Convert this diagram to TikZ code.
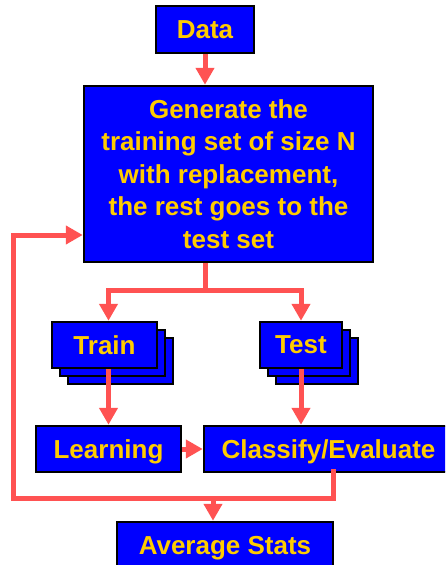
\documentclass[tikz,border=0pt]{standalone}
\usepackage{fontspec}
\setmainfont{Liberation Sans}
\usetikzlibrary{arrows.meta}
\definecolor{boxblue}{HTML}{0000FF}
\definecolor{txtyellow}{HTML}{FFCC00}
\definecolor{flowred}{HTML}{FF5252}
\tikzset{
  blockbox/.style={draw=black, line width=2.5pt, fill=boxblue, text=txtyellow,
    inner sep=0pt, align=center, text depth=0pt,
    font=\fontsize{26}{32.5}\selectfont\bfseries},
  backbox/.style={draw=black, line width=2.5pt, fill=boxblue, inner sep=0pt},
  flow/.style={draw=flowred, line width=5pt},
  flowarrow/.style={flow, -{Triangle[width=18pt,length=17pt]}, color=flowred}
}
\begin{document}
\begin{tikzpicture}[x=1pt,y=-1pt]
\useasboundingbox (0,0) rectangle (445,565);
\clip (0,0) rectangle (445,565);

% main blocks
\node[blockbox, minimum width=98pt, minimum height=47pt] (data) at (205,29.5) {Data};
\node[blockbox, minimum width=289pt, minimum height=176pt] (gen) at (228.5,174)
  {Generate the\\training set of size N\\with replacement,\\the rest goes to the\\test set};

% stacked Train cards
\node[backbox, minimum width=105pt, minimum height=46pt] (trainb2) at (120.5,361) {};
\node[backbox, minimum width=105pt, minimum height=46pt] (trainb1) at (112.5,353) {};
\node[blockbox, minimum width=105pt, minimum height=46pt] (train) at (104.5,345) {Train};

% stacked Test cards
\node[backbox, minimum width=82pt, minimum height=46pt] (testb2) at (317,361) {};
\node[backbox, minimum width=82pt, minimum height=46pt] (testb1) at (309,353) {};
\node[blockbox, minimum width=82pt, minimum height=46pt] (test) at (301,345) {Test};

\node[blockbox, minimum width=145pt, minimum height=46pt] (learn) at (108.5,449) {Learning};
\node[blockbox, minimum width=249pt, minimum height=46pt] (classify) at (328.5,449) {Classify/Evaluate};
\node[blockbox, minimum width=216pt, minimum height=46pt] (avg) at (225,545) {Average Stats};

% connector helper points
\coordinate (split) at (205,290);
\coordinate (loopbr) at (333,498);
\coordinate (loopbl) at (13,498);
\coordinate (looptl) at (13,235);
\coordinate (avgin) at (213,498);

% connectors
\draw[flowarrow] (data.south) -- (data.south |- gen.north);
\draw[flow] (gen.south -| split) -- (split);
\draw[flowarrow] (split) -| (learn.north |- train.north);
\draw[flowarrow] (split) -| (test.north);
\draw[flowarrow] (learn.north |- train.south) -- (learn.north);
\draw[flowarrow] (test.south) -- (test.south |- classify.north);
\draw[flowarrow] (learn.east) -- (classify.west);
\draw[flowarrow] ([yshift=4pt]classify.south -| loopbr) -- (loopbr) -- (loopbl) -- (looptl) -- (looptl -| gen.west);
\draw[flowarrow] (avgin) -- (avgin |- avg.north);
\end{tikzpicture}
\end{document}
